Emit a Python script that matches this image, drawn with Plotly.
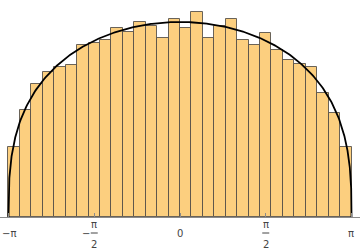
import numpy as np
import plotly.graph_objects as go

# histogram data (density per bin), 30 bins on [-pi, pi]
n_bins = 30
bin_edges = np.linspace(-np.pi, np.pi, n_bins + 1)
densities = [0.0684, 0.1042, 0.1296, 0.1417, 0.1462, 0.1488, 0.1677, 0.1700,
             0.1729, 0.1843, 0.1810, 0.1908, 0.1866, 0.1746, 0.1931, 0.1843,
             0.2006, 0.1746, 0.1866, 0.1931, 0.1726, 0.1677, 0.1795, 0.1629,
             0.1531, 0.1492, 0.1462, 0.1208, 0.1013, 0.0684]

tick_vals = [-np.pi, -np.pi / 2, 0, np.pi / 2, np.pi]

# model density curve
curve_power = 0.35
curve_peak = 0.1905


def model_pdf(x):
    return curve_peak * np.clip(1 - (x / np.pi) ** 2, 0, None) ** curve_power


centers = 0.5 * (bin_edges[:-1] + bin_edges[1:])
width = bin_edges[1] - bin_edges[0]

xc = np.concatenate([np.linspace(-np.pi, -3.0, 200), np.linspace(-3.0, 3.0, 300),
                     np.linspace(3.0, np.pi, 200)])
yc = model_pdf(xc)

fig = go.Figure()
fig.add_trace(go.Bar(x=centers, y=densities, width=width,
                     marker=dict(color="rgb(252,207,127)",
                                 line=dict(color="rgba(80,75,70,0.85)", width=1)),
                     hoverinfo="skip"))
fig.add_trace(go.Scatter(x=xc, y=yc, mode="lines",
                         line=dict(color="black", width=1.8), hoverinfo="skip"))

fig.update_layout(
    width=360, height=251, margin=dict(l=0, r=0, t=0, b=34),
    paper_bgcolor="white", plot_bgcolor="white", showlegend=False, bargap=0,
    xaxis=dict(range=[-3.297, 3.297], showgrid=False, zeroline=False,
               showline=True, linecolor="#8a8a8a", linewidth=1,
               tickvals=tick_vals, ticktext=["", "", "", "", ""],
               ticks="inside", ticklen=4, tickcolor="#8a8a8a"),
    yaxis=dict(range=[0, 0.2120], visible=False),
)

font = dict(family="DejaVu Sans", size=10, color="#444")


def label(x, text, shift, xshift=0):
    fig.add_annotation(x=x, y=0, xref="x", yref="y", text=text, showarrow=False,
                       yshift=shift, xshift=xshift, font=font,
                       xanchor="center", yanchor="middle")


label(-np.pi, "−π", -16, xshift=1)
label(np.pi, "π", -16, xshift=-1)
label(0, "0", -16)
for v, neg in [(-np.pi / 2, True), (np.pi / 2, False)]:
    label(v, "π", -7)
    label(v, "2", -27)
    if neg:
        label(v, "−", -16, xshift=-8)
    fig.add_shape(type="line", xref="x", yref="paper", xsizemode="pixel",
                  ysizemode="pixel", xanchor=v, yanchor=0,
                  x0=-3.5, x1=3.5, y0=-16, y1=-16,
                  line=dict(color="#444", width=1))

fig.write_html("out.html")
